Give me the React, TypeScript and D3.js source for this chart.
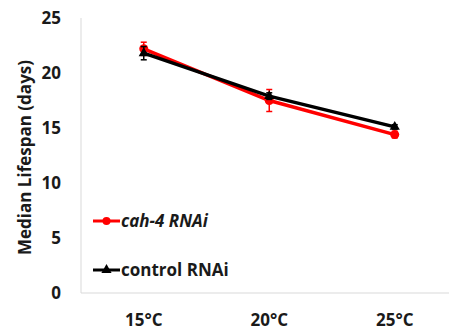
import React from "react";
import * as d3 from "d3";

const categories = ["15°C", "20°C", "25°C"];
const cahValues = [22.2, 17.5, 14.4];
const cahErrors = [0.6, 1.0, 0.3];
const ctrlValues = [21.8, 17.9, 15.1];
const ctrlErrors = [0.6, 0.3, 0.2];
const yTicks = [0, 5, 10, 15, 20, 25];

const W = 449, H = 332;
const left = 81, top = 18, bottom = 293;
const bandW = 125.5;

export default function App() {
  const x = d3.scaleBand<string>().domain(categories).range([left, left + bandW * 3]);
  const y = d3.scaleLinear().domain([0, 25]).range([bottom, top]);
  const cx = (c: string) => (x(c) as number) + x.bandwidth() / 2;
  const line = d3.line<number>().x((_, i) => cx(categories[i])).y((v) => y(v));
  const font = "'Open Sans', 'Liberation Sans', sans-serif";
  const tri = d3.symbol().type(d3.symbolTriangle).size(45)();

  const series = [
    { vals: cahValues, errs: cahErrors, color: "#ff0000", marker: "circle" },
    { vals: ctrlValues, errs: ctrlErrors, color: "#000000", marker: "tri" },
  ];

  return (
    <svg width={W} height={H} style={{ position: "absolute", left: 0, top: 0 }} fontFamily={font}>
      <rect width={W} height={H} fill="#fff" />
      <line x1={left} x2={left} y1={top} y2={bottom} stroke="#d9d9d9" strokeWidth={1} />
      <line x1={left} x2={W} y1={bottom} y2={bottom} stroke="#d9d9d9" strokeWidth={1} />
      {yTicks.map((t) => (
        <text key={t} x={61} y={y(t)} dy="0.36em" textAnchor="end" fontSize={17} fontWeight="bold" fill="#1a1a1a">
          {t}
        </text>
      ))}
      {categories.map((c) => (
        <text key={c} x={cx(c)} y={326} textAnchor="middle" fontSize={17} fontWeight="bold" fill="#1a1a1a">
          {c}
        </text>
      ))}
      <text transform={`translate(25,${(top + bottom) / 2 + 2}) rotate(-90)`} dy="0.36em" textAnchor="middle" fontSize={17} fontWeight="bold" fill="#1a1a1a">
        Median Lifespan (days)
      </text>
      {series.map((s, si) => (
        <g key={si}>
          {s.vals.map((v, i) => {
            const px = cx(categories[i]);
            return (
              <g key={i} stroke={s.color} strokeWidth={1.5}>
                <line x1={px} x2={px} y1={y(v + s.errs[i])} y2={y(v - s.errs[i])} />
                <line x1={px - 3} x2={px + 3} y1={y(v + s.errs[i])} y2={y(v + s.errs[i])} />
                <line x1={px - 3} x2={px + 3} y1={y(v - s.errs[i])} y2={y(v - s.errs[i])} />
              </g>
            );
          })}
          <path d={line(s.vals) || ""} fill="none" stroke={s.color} strokeWidth={3.5} />
          {s.vals.map((v, i) =>
            s.marker === "circle" ? (
              <circle key={i} cx={cx(categories[i])} cy={y(v)} r={4.5} fill={s.color} />
            ) : (
              <path key={i} d={tri || ""} transform={`translate(${cx(categories[i])},${y(v)})`} fill={s.color} />
            )
          )}
        </g>
      ))}
      <g>
        <line x1={93} x2={120} y1={221} y2={221} stroke="#ff0000" strokeWidth={3} />
        <circle cx={106.5} cy={221} r={4} fill="#ff0000" />
        <text x={121} y={221} dy="0.36em" fontSize={17} fontWeight="bold" fontStyle="italic" fill="#1a1a1a">
          cah-4 RNAi
        </text>
        <line x1={93} x2={120} y1={270} y2={270} stroke="#000" strokeWidth={3} />
        <path d={tri || ""} transform="translate(106.5,270)" fill="#000" />
        <text x={121} y={270} dy="0.36em" fontSize={17} fontWeight="bold" fill="#1a1a1a">
          control RNAi
        </text>
      </g>
    </svg>
  );
}
